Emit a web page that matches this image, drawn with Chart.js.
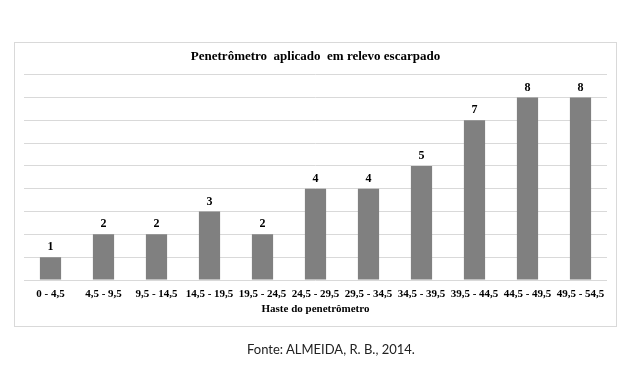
<!DOCTYPE html>
<html><head><meta charset="utf-8">
<script src="https://cdn.jsdelivr.net/npm/chart.js@4"></script>
<style>
html,body{margin:0;padding:0;background:#fff;}
#wrap{position:relative;width:620px;height:371px;}
#fonte{position:absolute;left:0;width:662px;top:341px;text-align:center;font-family:Lato,'Open Sans',sans-serif;font-size:13px;color:#222;}
</style></head>
<body>
<div id="wrap">
<canvas id="c" width="620" height="371"></canvas>
<div id="fonte">Fonte: ALMEIDA, R. B., 2014.</div>
</div>
<script>
const categories = ['0 - 4,5','4,5 - 9,5','9,5 - 14,5','14,5 - 19,5','19,5 - 24,5','24,5 - 29,5','29,5 - 34,5','34,5 - 39,5','39,5 - 44,5','44,5 - 49,5','49,5 - 54,5'];
const values = [1,2,2,3,2,4,4,5,7,8,8];
const chartTitle = 'Penetrômetro  aplicado  em relevo escarpado';
const xTitle = 'Haste do penetrômetro';

const frame = {
  id:'frame',
  beforeDraw(chart){
    const ctx = chart.ctx;
    ctx.save();
    ctx.fillStyle = '#fff';
    ctx.fillRect(0,0,chart.width,chart.height);
    ctx.strokeStyle = '#d9d9d9';
    ctx.lineWidth = 1;
    ctx.strokeRect(14.5,42.5,602,284);
    ctx.restore();
  }
};
const labels = {
  id:'labels',
  afterDatasetsDraw(chart){
    const ctx = chart.ctx;
    const meta = chart.getDatasetMeta(0);
    ctx.save();
    ctx.font = 'bold 12px "Liberation Serif"';
    ctx.fillStyle = '#000';
    ctx.textAlign = 'center';
    ctx.textBaseline = 'bottom';
    meta.data.forEach((el,i)=>{
      ctx.fillText(String(values[i]), el.x, el.y - 4);
    });
    ctx.restore();
  }
};

new Chart(document.getElementById('c'), {
  type:'bar',
  data:{labels:categories, datasets:[{data:values, backgroundColor:'#808080', barPercentage:0.4, categoryPercentage:1}]},
  options:{
    responsive:false, animation:false,
    layout:{padding:{left:24,right:13,top:40,bottom:51}},
    plugins:{
      legend:{display:false}, tooltip:{enabled:false},
      title:{display:true, text:chartTitle, color:'#000', font:{family:'Liberation Serif', size:13, weight:'bold'}, padding:{top:9,bottom:10}}
    },
    scales:{
      x:{
        grid:{display:false, drawTicks:false}, border:{display:false},
        ticks:{color:'#000', font:{family:'Liberation Serif', size:11, weight:'bold'}, maxRotation:0, autoSkip:false, padding:8},
        title:{display:true, text:xTitle, color:'#000', font:{family:'Liberation Serif', size:11, weight:'bold'}, padding:{top:4,bottom:4}},
        afterFit(s){ s.height = 40; }
      },
      y:{
        min:0, max:9,
        ticks:{display:false, stepSize:1},
        grid:{color:'#d9d9d9', drawTicks:false}, border:{display:false},
        afterFit(s){ s.width = 0; }
      }
    }
  },
  plugins:[frame, labels]
});
</script>
</body></html>
